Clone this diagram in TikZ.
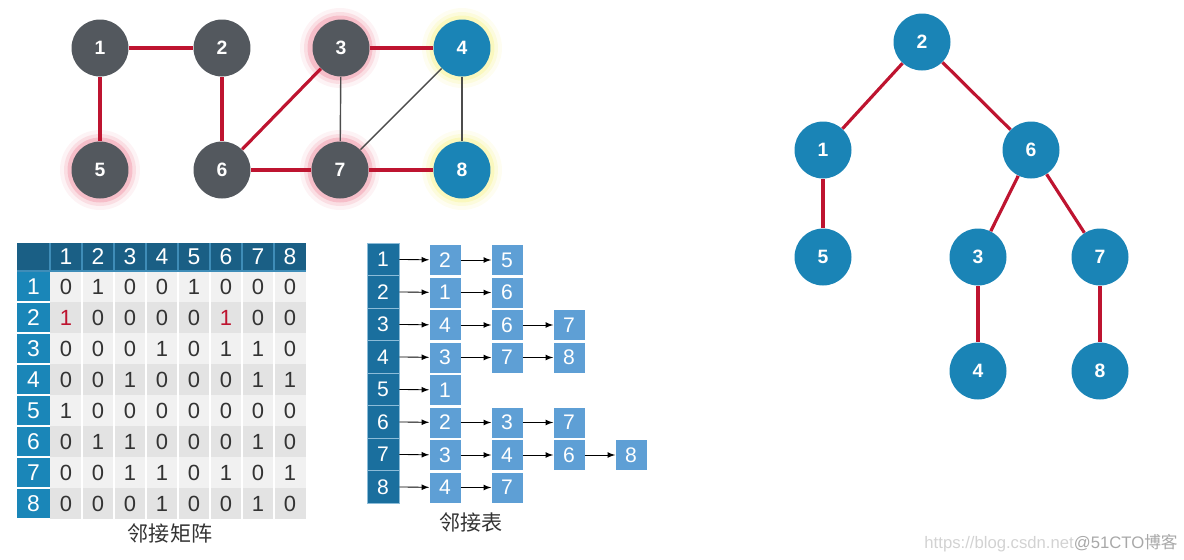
\documentclass[tikz,border=0pt]{standalone}
\usepackage{fontspec}
\setmainfont{Liberation Sans}
\newfontfamily\cjk{Noto Sans CJK SC}

\definecolor{nodegray}{HTML}{53585E}
\definecolor{nodeblue}{HTML}{1A84B6}
\definecolor{edgered}{HTML}{BE1430}
\definecolor{glowred}{HTML}{E8607A}
\definecolor{glowyellow}{HTML}{F4F07A}
\definecolor{headblue}{HTML}{1A5F85}
\definecolor{headline}{HTML}{3F8DB8}
\definecolor{sideblue}{HTML}{1A86B8}
\definecolor{listhead}{HTML}{1A6F9E}
\definecolor{listline}{HTML}{8CBCD8}
\definecolor{listcell}{HTML}{5E9FD5}
\definecolor{rowlight}{HTML}{F1F1F1}
\definecolor{rowdark}{HTML}{E3E3E3}
\definecolor{txtgray}{HTML}{333333}
\definecolor{wmlight}{HTML}{D2D2D2}
\definecolor{wmgray}{HTML}{A8A8A8}

\tikzset{
  vertex/.style={circle, minimum size=1.14cm, inner sep=0pt, text=white,
    font=\fontsize{11}{13}\selectfont\bfseries},
  vgray/.style={vertex, fill=nodegray},
  vblue/.style={vertex, fill=nodeblue},
  redge/.style={edgered, line width=1.8pt},
  gedge/.style={black!70, line width=0.8pt},
  mcell/.style={inner sep=0pt, text=txtgray, font=\fontsize{12.5}{14}\selectfont},
  mhead/.style={inner sep=0pt, text=white, font=\fontsize{13}{15}\selectfont},
  lhead/.style={rectangle, fill=listhead, draw=listline, line width=0.4pt,
    minimum width=0.64cm, minimum height=0.65cm, inner sep=0pt, text=white,
    font=\fontsize{12}{14}\selectfont},
  lcell/.style={rectangle, fill=listcell, minimum width=0.62cm,
    minimum height=0.6cm, inner sep=0pt, text=white,
    font=\fontsize{12}{14}\selectfont},
  link/.style={->, >=latex, line width=0.5pt},
  caption/.style={text=txtgray, font=\cjk\fontsize{12}{14}\selectfont}
}

\begin{document}
\begin{tikzpicture}[x=0.02cm, y=-0.02cm]
\useasboundingbox (0,0) rectangle (1184,559);

% glow round the marked vertices
\foreach \x/\y in {340/48, 340/170, 100/170}
  \foreach \rr/\oo in {0.80cm/0.08, 0.72cm/0.14, 0.65cm/0.25}
    \fill[glowred, opacity=\oo] (\x,\y) circle (\rr);
\foreach \x/\y in {462/48, 462/170}
  \foreach \rr/\oo in {0.80cm/0.10, 0.72cm/0.18, 0.65cm/0.30}
    \fill[glowyellow, opacity=\oo] (\x,\y) circle (\rr);

% graph
\node[vgray] (g1) at (100,48) {1};
\node[vgray] (g2) at (222,48) {2};
\node[vgray] (g3) at (341,48) {3};
\node[vblue] (g4) at (462,48) {4};
\node[vgray] (g5) at (100,170) {5};
\node[vgray] (g6) at (222,170) {6};
\node[vgray] (g7) at (340,170) {7};
\node[vblue] (g8) at (462,170) {8};
\draw[redge] (g1) -- (g2);
\draw[redge] (g1) -- (g5);
\draw[redge] (g2) -- (g6);
\draw[redge] (g6) -- (g3);
\draw[redge] (g6) -- (g7);
\draw[redge] (g3) -- (g4);
\draw[redge] (g7) -- (g8);
\draw[gedge] (g3) -- (g7);
\draw[gedge] (g7) -- (g4);
\draw[gedge] (g4) -- (g8);

% adjacency matrix
\fill[headblue] (17,243) rectangle (306,271);
\fill[sideblue] (17,271) rectangle (50,519);
\foreach \r in {1,...,8} {
  \ifodd\r \def\rowc{rowlight}\else\def\rowc{rowdark}\fi
  \fill[\rowc] (50,240+31*\r) rectangle (306,271+31*\r);
  \draw[white, line width=0.8pt] (17,271+31*\r) -- (50,271+31*\r);
}
\foreach \j in {0,...,7}
  \draw[headline, line width=0.8pt] (50+32*\j,243) -- (50+32*\j,271);
\foreach \j in {1,...,7}
  \draw[white, line width=0.8pt] (50+32*\j,271) -- (50+32*\j,519);
\draw[headline, line width=0.8pt] (17,271) -- (306,271);
\foreach \c in {1,...,8} {
  \node[mhead] (h\c) at (34+32*\c,257) {\c};
  \node[mhead] (s\c) at (33.5,255.5+31*\c) {\c};
}
\foreach \row [count=\r] in {{0,1,0,0,1,0,0,0},{2,0,0,0,0,2,0,0},
    {0,0,0,1,0,1,1,0},{0,0,1,0,0,0,1,1},{1,0,0,0,0,0,0,0},
    {0,1,1,0,0,0,1,0},{0,0,1,1,0,1,0,1},{0,0,0,1,0,0,1,0}}
  \foreach \v [count=\c] in \row {
    \ifnum\v=2
      \node[mcell, text=edgered] (m\r\c) at (34+32*\c,255.5+31*\r) {1};
    \else
      \node[mcell] (m\r\c) at (34+32*\c,255.5+31*\r) {\v};
    \fi
  }
\node[caption] (capm) at (170,533) {邻接矩阵};

% adjacency list
\foreach \lst [count=\r] in {{2,5},{1,6},{4,6,7},{3,7,8},{1},{2,3,7},{3,4,6,8},{4,7}} {
  \node[lhead] (a\r) at (383,226.75+32.5*\r) {\r};
  \foreach \v [count=\c] in \lst {
    \node[lcell] (b\r\c) at (383+62*\c,227.5+32.5*\r) {\v};
    \ifnum\c=1
      \draw[link] (a\r) -- (b\r\c);
    \else
      \pgfmathtruncatemacro\p{\c-1}
      \draw[link] (b\r\p) -- (b\r\c);
    \fi
  }
}
\node[caption] (capl) at (471,522) {邻接表};

% spanning tree
\node[vblue] (t2) at (922,42) {2};
\node[vblue] (t1) at (823,150) {1};
\node[vblue] (t6) at (1031,150) {6};
\node[vblue] (t5) at (823,257) {5};
\node[vblue] (t3) at (978,257) {3};
\node[vblue] (t7) at (1100,257) {7};
\node[vblue] (t4) at (978,371) {4};
\node[vblue] (t8) at (1100,371) {8};
\draw[redge] (t2) -- (t1);
\draw[redge] (t2) -- (t6);
\draw[redge] (t1) -- (t5);
\draw[redge] (t6) -- (t3);
\draw[redge] (t6) -- (t7);
\draw[redge] (t3) -- (t4);
\draw[redge] (t7) -- (t8);

% watermark
\node[anchor=east, inner sep=0pt, font=\fontsize{9.5}{11}\selectfont] (wm) at (1178,543)
  {\textcolor{wmlight}{https://blog.csdn.net}\textcolor{wmgray}{@51CTO{\cjk 博客}}};
\end{tikzpicture}
\end{document}
